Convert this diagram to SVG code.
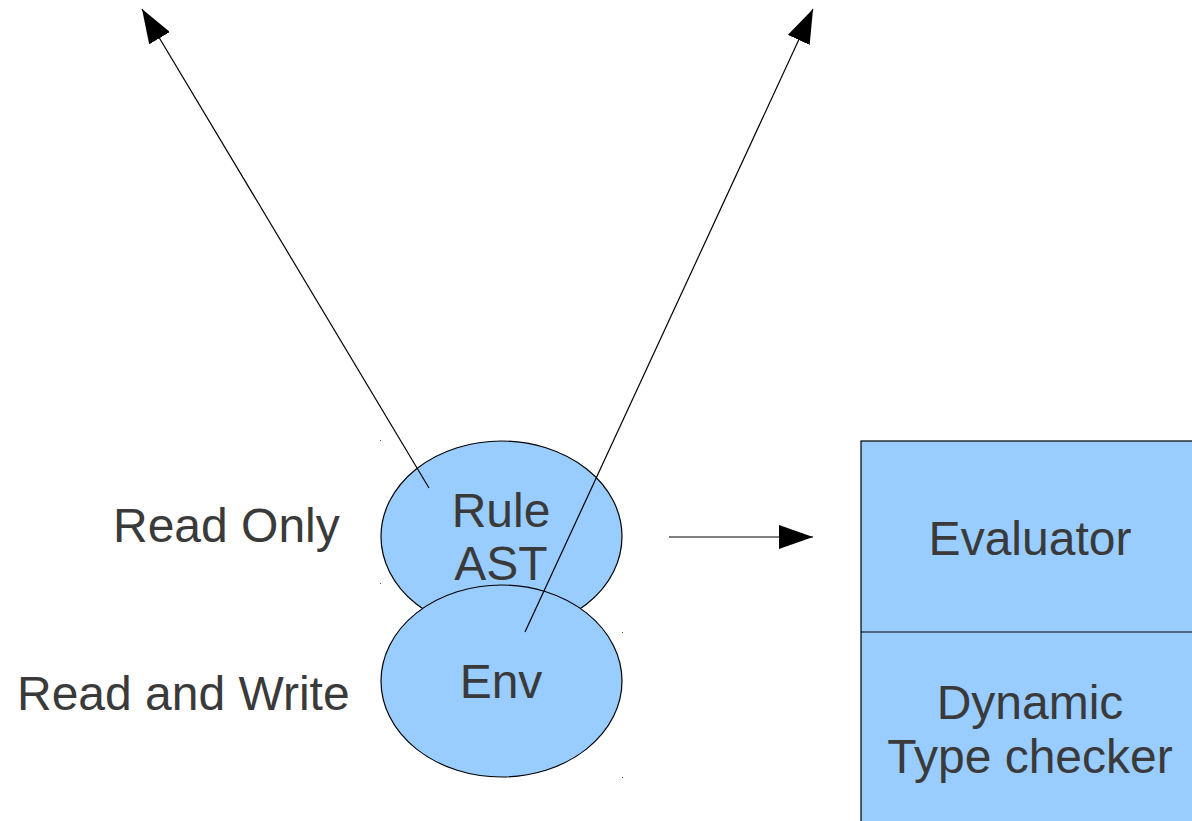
<svg xmlns="http://www.w3.org/2000/svg" width="1192" height="821" viewBox="0 0 1192 821">
<style>
text{font-family:"Liberation Sans",Arial,sans-serif;font-size:48px;fill:#3a3a3a}
.c{text-anchor:middle}
.shape{fill:#99ccff;stroke:#000;stroke-width:1.2}
.conn{stroke:#000;stroke-width:1.2;fill:none}
.dot{fill:#555}
</style>
<defs>
<marker id="ah" viewBox="0 0 34 24" refX="34" refY="12" markerWidth="34" markerHeight="24" markerUnits="userSpaceOnUse" orient="auto">
<path d="M0,0 L34,12 L0,24 Z" fill="#000"/>
</marker>
</defs>
<rect width="1192" height="821" fill="#fff"/>
<g id="labels">
<text x="113" y="542">Read Only</text>
<text x="17" y="710">Read and Write</text>
</g>
<g id="box">
<rect class="shape" x="861" y="441" width="345" height="400"/>
<line class="conn" x1="861" y1="632" x2="1192" y2="632"/>
</g>
<g id="evaluator">
<text class="c" x="1030" y="555">Evaluator</text>
</g>
<g id="typechecker">
<text class="c" x="1030" y="719">Dynamic</text>
<text class="c" x="1030" y="773">Type checker</text>
</g>
<g id="ruleast">
<ellipse class="shape" cx="501.5" cy="536.5" rx="120.5" ry="95.5"/>
<text class="c" x="501" y="527">Rule</text>
<text class="c" x="501" y="580">AST</text>
</g>
<g id="env">
<ellipse class="shape" cx="501.5" cy="681" rx="120.5" ry="96"/>
<text class="c" x="501" y="698">Env</text>
</g>
<g id="connectors">
<line class="conn" x1="429" y1="488" x2="142" y2="9" marker-end="url(#ah)"/>
<line class="conn" x1="525" y1="632" x2="813" y2="9" marker-end="url(#ah)"/>
<line class="conn" x1="669" y1="537" x2="813" y2="537" marker-end="url(#ah)"/>
</g>
<g id="marks">
<rect class="dot" x="380" y="440" width="1" height="1"/>
<rect class="dot" x="380" y="583" width="1" height="1"/>
<rect class="dot" x="622" y="632" width="1" height="1"/>
<rect class="dot" x="622" y="777" width="1" height="1"/>
</g>
</svg>
